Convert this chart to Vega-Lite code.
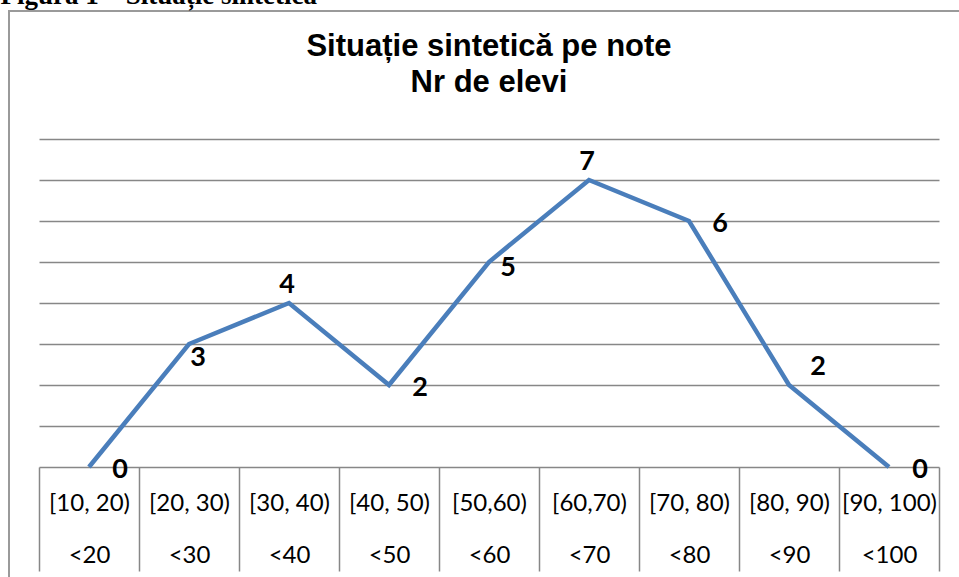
{
  "$schema": "https://vega.github.io/schema/vega-lite/v6.json",
  "autosize": "none",
  "padding": {"left": 9, "top": 11, "right": 0, "bottom": 0},
  "width": 960,
  "height": 580,
  "background": "white",
  "title": {
    "text": ["Situație sintetică pe note", "Nr de elevi"],
    "anchor": "middle",
    "frame": "group",
    "offset": -118,
    "font": "Liberation Sans",
    "fontSize": 31,
    "fontWeight": "bold",
    "lineHeight": 36,
    "color": "black"
  },
  "config": {
    "view": {"stroke": "#9a9a9a", "strokeWidth": 2}
  },
  "data": {
    "values": [
      {"interval": "[10, 20)", "elevi": 0},
      {"interval": "[20, 30)", "elevi": 3},
      {"interval": "[30, 40)", "elevi": 4},
      {"interval": "[40, 50)", "elevi": 2},
      {"interval": "[50,60)", "elevi": 5},
      {"interval": "[60,70)", "elevi": 7},
      {"interval": "[70, 80)", "elevi": 6},
      {"interval": "[80, 90)", "elevi": 2},
      {"interval": "[90, 100)", "elevi": 0}
    ]
  },
  "encoding": {
    "x": {
      "field": "interval",
      "type": "nominal",
      "sort": null,
      "scale": {"range": [30, 930], "paddingInner": 0, "paddingOuter": 0},
      "axis": {
        "orient": "bottom",
        "offset": -124,
        "domainColor": "#878787",
        "domainWidth": 1.5,
        "tickBand": "extent",
        "tickSize": 104,
        "tickColor": "#878787",
        "tickWidth": 1.5,
        "labelAngle": 0,
        "labelPadding": -80,
        "labelBaseline": "top",
        "labelAlign": "center",
        "labelFont": "Lato",
        "labelFontSize": 24,
        "labelColor": "black",
        "labelLineHeight": 52,
        "labelOverlap": false,
        "labelBound": false,
        "labelExpr": "datum.label ? [datum.label, '<' + trim(slice(datum.label, indexof(datum.label, ',') + 1, -1))] : ''",
        "title": "Figura 1 – Situație sintetică",
        "titleX": -9,
        "titleY": -464,
        "titleAngle": 0,
        "titleAlign": "left",
        "titleBaseline": "alphabetic",
        "titleFont": "Liberation Serif",
        "titleFontSize": 27,
        "titleFontWeight": "bold",
        "titleColor": "black"
      }
    },
    "y": {
      "field": "elevi",
      "type": "quantitative",
      "scale": {"domain": [0, 8], "range": [456, 128], "nice": false},
      "axis": {
        "orient": "left",
        "offset": -930,
        "values": [1, 2, 3, 4, 5, 6, 7, 8],
        "tickSize": 900,
        "tickColor": "#878787",
        "tickWidth": 1.5,
        "domain": false,
        "labels": false,
        "grid": false,
        "title": null
      }
    }
  },
  "layer": [
    {
      "mark": {"type": "line", "color": "#4A7EBB", "strokeWidth": 4.5, "strokeJoin": "miter"}
    },
    {
      "transform": [{"filter": {"field": "interval", "oneOf": ["[10, 20)", "[40, 50)", "[70, 80)", "[90, 100)"]}}],
      "mark": {"type": "text", "font": "Lato", "fontSize": 27, "fontWeight": "bold", "color": "black", "align": "center", "baseline": "middle", "dx": 31, "dy": 3},
      "encoding": {"text": {"field": "elevi"}}
    },
    {
      "transform": [{"filter": {"field": "interval", "equal": "[50,60)"}}],
      "mark": {"type": "text", "font": "Lato", "fontSize": 27, "fontWeight": "bold", "color": "black", "align": "center", "baseline": "middle", "dx": 19, "dy": 6},
      "encoding": {"text": {"field": "elevi"}}
    },
    {
      "transform": [{"filter": {"field": "interval", "equal": "[20, 30)"}}],
      "mark": {"type": "text", "font": "Lato", "fontSize": 27, "fontWeight": "bold", "color": "black", "align": "center", "baseline": "middle", "dx": 9, "dy": 14},
      "encoding": {"text": {"field": "elevi"}}
    },
    {
      "transform": [{"filter": {"field": "interval", "oneOf": ["[30, 40)", "[60,70)"]}}],
      "mark": {"type": "text", "font": "Lato", "fontSize": 27, "fontWeight": "bold", "color": "black", "align": "center", "baseline": "middle", "dx": -2, "dy": -18},
      "encoding": {"text": {"field": "elevi"}}
    },
    {
      "transform": [{"filter": {"field": "interval", "equal": "[80, 90)"}}],
      "mark": {"type": "text", "font": "Lato", "fontSize": 27, "fontWeight": "bold", "color": "black", "align": "center", "baseline": "middle", "dx": 29, "dy": -18},
      "encoding": {"text": {"field": "elevi"}}
    }
  ]
}
